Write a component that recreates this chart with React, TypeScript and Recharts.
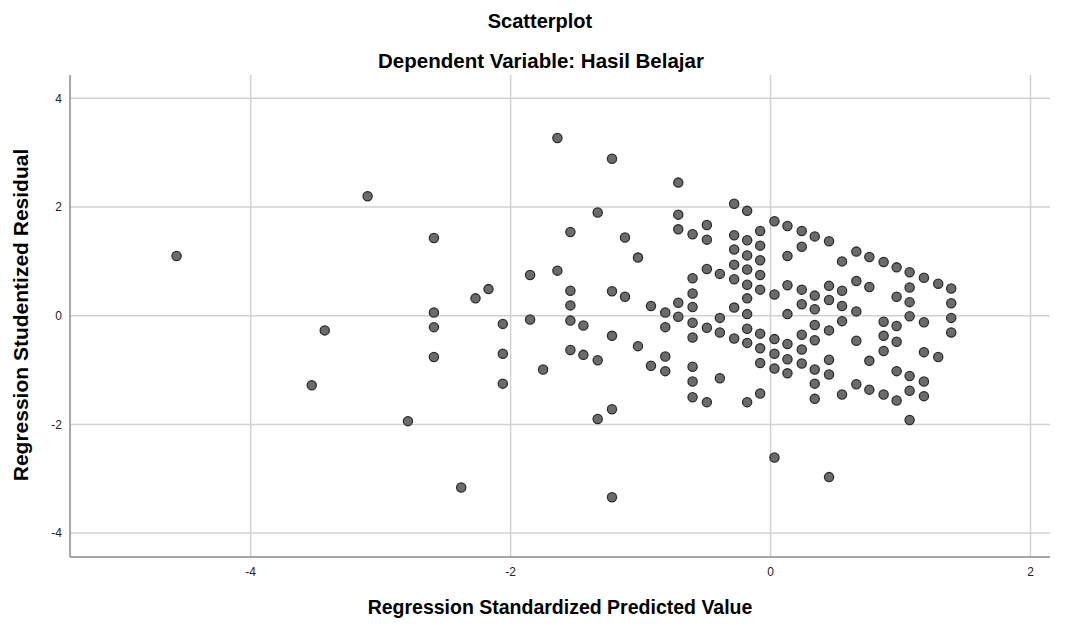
import React from 'react';
import { ScatterChart, Scatter, XAxis, YAxis, CartesianGrid } from 'recharts';

// Regression Standardized Predicted Value
const predicted = [
  -4.57, -3.53, -3.43, -3.10, -2.79,
  -2.59, -2.59, -2.59, -2.59, -2.38, -2.27, -2.17,
  -2.06, -2.06, -2.06, -1.85, -1.85, -1.75,
  -1.64, -1.64, -1.54, -1.54, -1.54, -1.54, -1.54,
  -1.44, -1.44, -1.33, -1.33, -1.33,
  -1.22, -1.22, -1.22, -1.22, -1.22, -1.12, -1.12, -1.02, -1.02,
  -0.92, -0.92, -0.81, -0.81, -0.81, -0.81,
  -0.71, -0.71, -0.71, -0.71, -0.71,
  -0.60, -0.60, -0.60, -0.60, -0.60, -0.60, -0.60, -0.60, -0.60,
  -0.49, -0.49, -0.49, -0.49, -0.49,
  -0.39, -0.39, -0.39, -0.39,
  -0.28, -0.28, -0.28, -0.28, -0.28, -0.28, -0.28,
  -0.18, -0.18, -0.18, -0.18, -0.18, -0.18, -0.18, -0.18, -0.18, -0.18,
  -0.08, -0.08, -0.08, -0.08, -0.08, -0.08, -0.08, -0.08, -0.08,
  0.03, 0.03, 0.03, 0.03, 0.03, 0.03,
  0.13, 0.13, 0.13, 0.13, 0.13, 0.13, 0.13,
  0.24, 0.24, 0.24, 0.24, 0.24, 0.24, 0.24,
  0.34, 0.34, 0.34, 0.34, 0.34, 0.34, 0.34, 0.34,
  0.45, 0.45, 0.45, 0.45, 0.45, 0.45, 0.45,
  0.55, 0.55, 0.55, 0.55, 0.55,
  0.66, 0.66, 0.66, 0.66, 0.66,
  0.76, 0.76, 0.76, 0.76,
  0.87, 0.87, 0.87, 0.87, 0.87,
  0.97, 0.97, 0.97, 0.97, 0.97, 0.97,
  1.07, 1.07, 1.07, 1.07, 1.07, 1.07, 1.07,
  1.18, 1.18, 1.18, 1.18, 1.18,
  1.29, 1.29,
  1.39, 1.39, 1.39, 1.39,
];

// Regression Studentized Residual, same order as predicted
const residual = [
  1.10, -1.28, -0.27, 2.20, -1.94,
  1.43, 0.06, -0.21, -0.76, -3.16, 0.32, 0.49,
  -0.15, -0.70, -1.25, 0.75, -0.07, -0.99,
  3.27, 0.83, 1.54, 0.46, 0.19, -0.09, -0.63,
  -0.18, -0.72, 1.90, -0.82, -1.90,
  2.89, 0.45, -0.37, -1.72, -3.34, 1.44, 0.35, 1.07, -0.56,
  0.18, -0.92, 0.06, -0.21, -0.75, -1.02,
  2.45, 1.86, 1.59, 0.24, -0.02,
  1.50, 0.69, 0.41, 0.16, -0.13, -0.40, -0.94, -1.21, -1.50,
  1.67, 1.40, 0.86, -0.22, -1.59,
  0.77, -0.04, -0.31, -1.15,
  2.06, 1.48, 1.22, 0.94, 0.67, 0.15, -0.42,
  1.93, 1.39, 1.11, 0.85, 0.57, 0.32, 0.03, -0.24, -0.50, -1.59,
  1.56, 1.29, 1.02, 0.75, 0.48, -0.33, -0.60, -0.87, -1.43,
  1.74, 0.39, -0.43, -0.70, -0.97, -2.61,
  1.65, 1.10, 0.56, 0.03, -0.52, -0.80, -1.06,
  1.56, 1.27, 0.48, 0.21, -0.35, -0.62, -0.88,
  1.46, 0.37, 0.12, -0.17, -0.45, -0.99, -1.25, -1.53,
  1.37, 0.55, 0.29, -0.27, -0.81, -1.08, -2.97,
  1.00, 0.46, 0.18, -0.10, -1.45,
  1.18, 0.64, 0.08, -0.46, -1.26,
  1.08, 0.53, -0.83, -1.36,
  0.99, -0.11, -0.37, -0.65, -1.45,
  0.89, 0.35, -0.19, -0.48, -1.02, -1.56,
  0.80, 0.52, 0.25, -0.01, -1.11, -1.38, -1.92,
  0.70, -0.12, -0.67, -1.21, -1.48,
  0.59, -0.76,
  0.50, 0.23, -0.04, -0.31,
];

const xTicks = [-4, -2, 0, 2];
const yTicks = [-4, -2, 0, 2, 4];
const xDomain = [-5.39, 2.15];
const yDomain = [-4.44, 4.43];

const points = predicted.map((x, i) => ({ x, y: residual[i] }));

const font = '"Liberation Sans", Arial, sans-serif';

const Dot = (props: any) => (
  <circle cx={props.cx} cy={props.cy} r={4.6} fill="#6b6b6b" stroke="#2e2e2e" strokeWidth={1.3} />
);

// grid only at the tick values, no frame on top / right
const hLines = (p: any) => {
  const o = p.offset;
  return yTicks.map((t) => o.top + ((yDomain[1] - t) / (yDomain[1] - yDomain[0])) * o.height);
};
const vLines = (p: any) => {
  const o = p.offset;
  return xTicks.map((t) => o.left + ((t - xDomain[0]) / (xDomain[1] - xDomain[0])) * o.width);
};

export default function App() {
  return (
    <div style={{ position: 'absolute', left: 0, top: 0, width: 1070, height: 628, background: '#fff', fontFamily: font }}>
      <ScatterChart width={1070} height={628} margin={{ top: 75, right: 20, bottom: 46, left: 30 }}>
        <CartesianGrid
          stroke="#d2d2d2"
          strokeWidth={1.5}
          horizontalCoordinatesGenerator={hLines}
          verticalCoordinatesGenerator={vLines}
        />
        <XAxis
          type="number"
          dataKey="x"
          domain={xDomain}
          ticks={xTicks}
          allowDataOverflow
          height={25}
          tickLine={false}
          tickMargin={4}
          axisLine={{ stroke: '#8a8a8a', strokeWidth: 1.5 }}
          tick={{ fill: '#222', fontSize: 12, fontFamily: font }}
        />
        <YAxis
          type="number"
          dataKey="y"
          domain={yDomain}
          ticks={yTicks}
          allowDataOverflow
          width={40}
          tickLine={false}
          axisLine={{ stroke: '#8a8a8a', strokeWidth: 1.5 }}
          tick={{ fill: '#222', fontSize: 12, fontFamily: font }}
        />
        <Scatter data={points} shape={Dot} isAnimationActive={false} />
      </ScatterChart>
      <svg width={1070} height={628} style={{ position: 'absolute', left: 0, top: 0, pointerEvents: 'none' }}>
        <g fontFamily={font} fontWeight="bold" fill="#000">
          <text x={540} y={21} fontSize={20} textAnchor="middle" dominantBaseline="central">Scatterplot</text>
          <text x={541} y={60} fontSize={20.5} textAnchor="middle" dominantBaseline="central">Dependent Variable: Hasil Belajar</text>
          <text x={560} y={607} fontSize={19.5} textAnchor="middle" dominantBaseline="central">Regression Standardized Predicted Value</text>
          <text x={20} y={315} fontSize={21} textAnchor="middle" dominantBaseline="central" transform="rotate(-90 20 315)">Regression Studentized Residual</text>
        </g>
      </svg>
    </div>
  );
}
